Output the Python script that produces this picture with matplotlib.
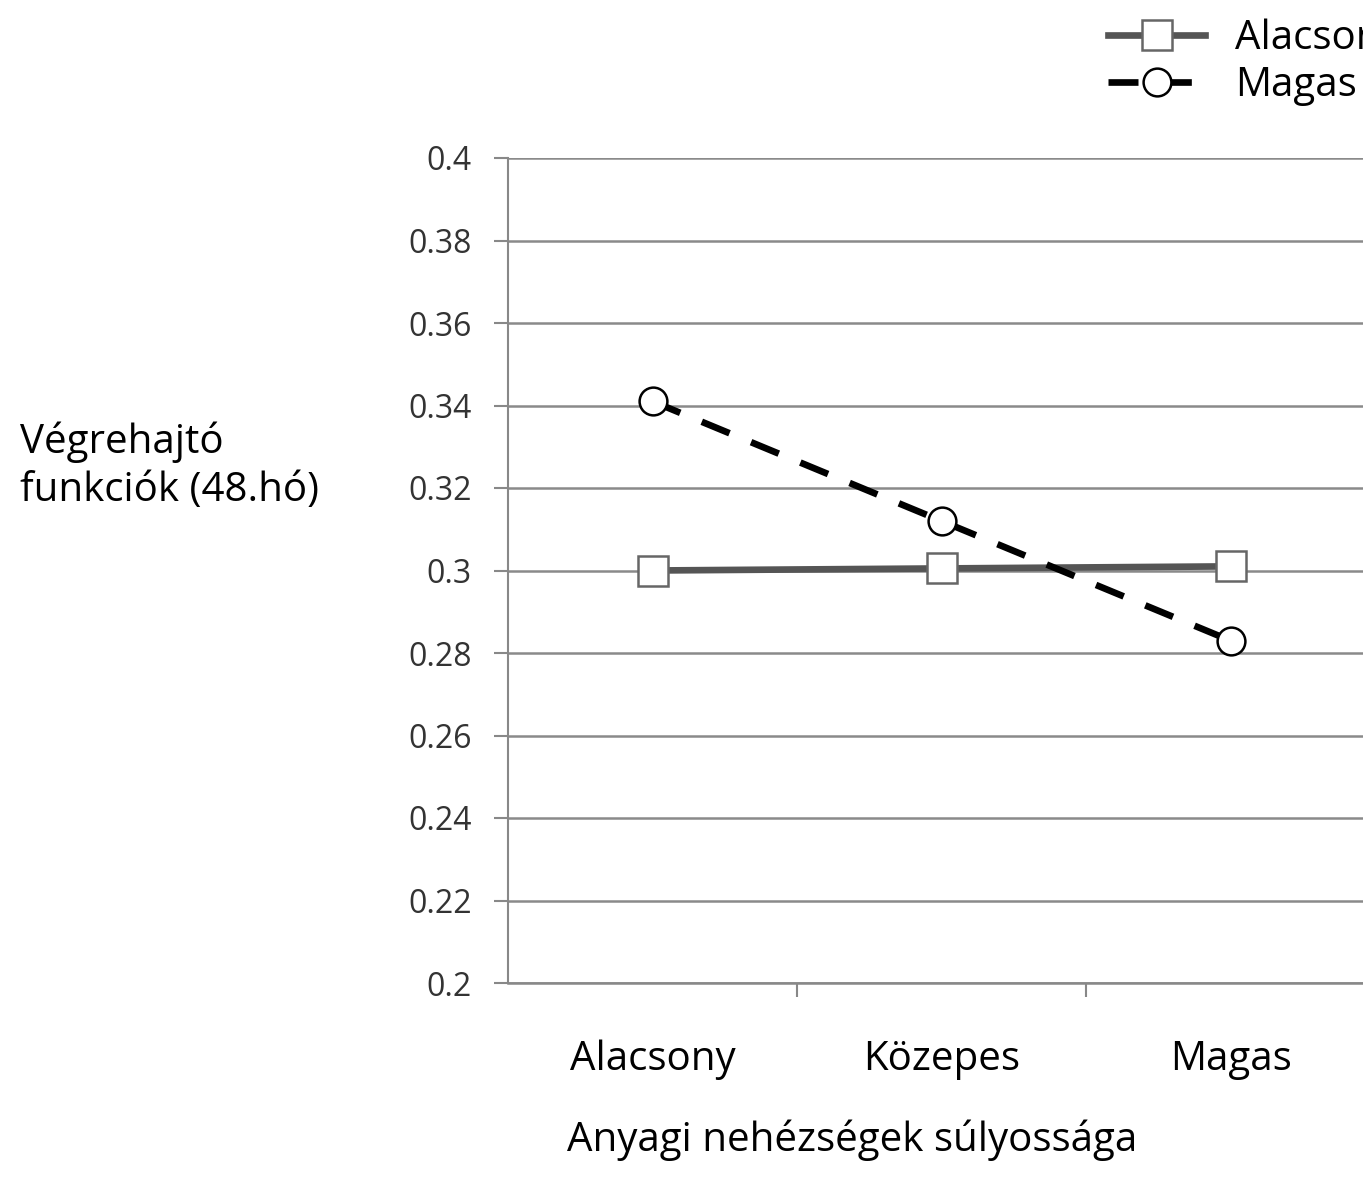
import numpy as np
import matplotlib
matplotlib.use("Agg")
import matplotlib.pyplot as plt

# adatok
categories = ["Alacsony", "Közepes", "Magas"]
series_names = ["Alacsony", "Magas"]
low_values = [0.300, 0.3005, 0.301]
high_values = [0.341, 0.312, 0.283]
y_ticks = [0.2, 0.22, 0.24, 0.26, 0.28, 0.3, 0.32, 0.34, 0.36, 0.38, 0.4]
y_tick_labels = ["0.2", "0.22", "0.24", "0.26", "0.28", "0.3", "0.32", "0.34", "0.36", "0.38", "0.4"]

plt.rcParams['font.family'] = ['Open Sans', 'DejaVu Sans']

fig = plt.figure(figsize=(13.63, 11.88), dpi=100)
ax = fig.add_axes([508/1363, 1 - 983/1188, 867/1363, 825/1188])

x = np.arange(len(categories))

ax.plot(x, low_values, '-', color='#555555', lw=4.8, marker='s', markersize=22,
        markerfacecolor='white', markeredgecolor='#666666', markeredgewidth=1.8,
        label=series_names[0], zorder=3)
ax.plot(x, high_values, '--', color='black', lw=4.8, dashes=(4.5, 3.5), marker='o', markersize=20,
        markerfacecolor='white', markeredgecolor='black', markeredgewidth=1.8,
        label=series_names[1], zorder=4)

ax.set_xlim(-0.5, 2.5)
ax.set_ylim(0.2, 0.4)
ax.set_yticks(y_ticks)
ax.set_yticklabels(y_tick_labels, fontsize=23, color='#333333')
ax.set_xticks(x)
ax.set_xticklabels(categories, fontsize=29)
ax.set_xticks([0.5, 1.5], minor=True)
ax.tick_params(axis='x', which='major', length=0, pad=41)
ax.tick_params(axis='x', which='minor', length=10, width=1.5, color='#888888', direction='out')
ax.tick_params(axis='y', length=10, width=1.5, color='#888888', pad=16)

ax.grid(axis='y', color='#8a8a8a', lw=1.8)
ax.set_axisbelow(True)
for s in ['top', 'right']:
    ax.spines[s].set_visible(False)
ax.spines['left'].set_color('#888888')
ax.spines['left'].set_linewidth(1.5)
ax.spines['bottom'].set_color('#888888')
ax.spines['bottom'].set_linewidth(1.8)

fig.text(20/1363, 1 - 466/1188, "Végrehajtó\nfunkciók (48.hó)", fontsize=29,
         ha='left', va='center', linespacing=1.25)
fig.text(852/1363, 1 - 1140/1188, "Anyagi nehézségek súlyossága", fontsize=29,
         ha='center', va='center')

fig.legend(loc='upper left', bbox_to_anchor=(1072/1363, 1 + 18/1188), frameon=False,
           fontsize=29, handlelength=2.4, handletextpad=0.75, labelspacing=0.16)

fig.savefig("out.png", dpi=100)
